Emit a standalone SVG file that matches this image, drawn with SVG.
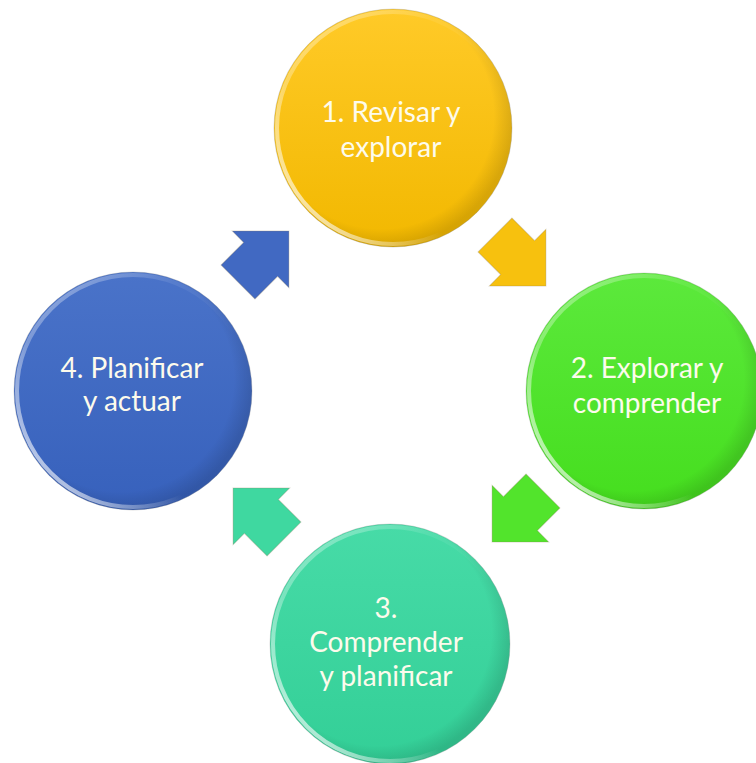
<svg xmlns="http://www.w3.org/2000/svg" width="756" height="763" viewBox="0 0 756 763">
<defs>
<linearGradient id="gY" x1="0" y1="0" x2="0" y2="1"><stop offset="0" stop-color="#FFCA28"/><stop offset="1" stop-color="#F2B800"/></linearGradient>
<linearGradient id="gG" x1="0" y1="0" x2="0" y2="1"><stop offset="0" stop-color="#5CE93C"/><stop offset="1" stop-color="#45DE1E"/></linearGradient>
<linearGradient id="gT" x1="0" y1="0" x2="0" y2="1"><stop offset="0" stop-color="#47DBA7"/><stop offset="1" stop-color="#33CF97"/></linearGradient>
<linearGradient id="gB" x1="0" y1="0" x2="0" y2="1"><stop offset="0" stop-color="#4A73C9"/><stop offset="1" stop-color="#3761BC"/></linearGradient>
<linearGradient id="hl" x1="0" y1="0" x2="1" y2="1"><stop offset="0" stop-color="#fff" stop-opacity="0.5"/><stop offset="0.35" stop-color="#fff" stop-opacity="0.08"/><stop offset="0.6" stop-color="#fff" stop-opacity="0"/><stop offset="1" stop-color="#fff" stop-opacity="0"/></linearGradient>
<linearGradient id="hl2" x1="1" y1="0" x2="0" y2="1"><stop offset="0" stop-color="#fff" stop-opacity="0"/><stop offset="0.62" stop-color="#fff" stop-opacity="0"/><stop offset="0.85" stop-color="#fff" stop-opacity="0.6"/><stop offset="1" stop-color="#fff" stop-opacity="0.15"/></linearGradient>
<radialGradient id="sh" cx="0.45" cy="0.45" r="0.55"><stop offset="0" stop-color="#000" stop-opacity="0"/><stop offset="0.86" stop-color="#000" stop-opacity="0"/><stop offset="1" stop-color="#000" stop-opacity="0.12"/></radialGradient>
<path id="arr" d="M0,-24 L32,-24 L32,-40 L72,0 L32,40 L32,24 L0,24 Z"/>
</defs>
<style>
.lbl{font-family:Lato,"Open Sans","Liberation Sans",sans-serif;font-size:28px;fill:#FDFBEC;text-anchor:middle}
.rim{fill:none;stroke-width:4}
.edge{fill:none;stroke:#8a8a8a;stroke-opacity:0.3;stroke-width:1}
.ar{stroke:#8a7a5a;stroke-opacity:0.3;stroke-width:1}
</style>
<g id="connectors">
<use href="#arr" transform="translate(495,235) rotate(45)" fill="#F7C10E" class="ar"/>
<use href="#arr" transform="translate(543,491) rotate(135)" fill="#52E42C" class="ar"/>
<use href="#arr" transform="translate(284,539) rotate(225)" fill="#3FD8A0" class="ar"/>
<use href="#arr" transform="translate(238,282) rotate(-45)" fill="#4169C2" class="ar"/>
</g>
<g id="n1">
<circle cx="393" cy="128" r="119" fill="url(#gY)"/>
<circle cx="393" cy="128" r="119" fill="url(#sh)"/>
<circle cx="393" cy="128" r="116" class="rim" stroke="url(#hl)"/>
<circle cx="393" cy="128" r="116" class="rim" stroke="url(#hl2)"/>
<circle cx="393" cy="128" r="119" class="edge"/>
<text class="lbl" x="391" y="122">1. Revisar y</text>
<text class="lbl" x="391" y="157">explorar</text>
</g>
<g id="n2">
<circle cx="644" cy="391" r="118" fill="url(#gG)"/>
<circle cx="644" cy="391" r="118" fill="url(#sh)"/>
<circle cx="644" cy="391" r="115" class="rim" stroke="url(#hl)"/>
<circle cx="644" cy="391" r="115" class="rim" stroke="url(#hl2)"/>
<circle cx="644" cy="391" r="118" class="edge"/>
<text class="lbl" x="647" y="378">2. Explorar y</text>
<text class="lbl" x="647" y="413">comprender</text>
</g>
<g id="n3">
<circle cx="390" cy="644" r="120" fill="url(#gT)"/>
<circle cx="390" cy="644" r="120" fill="url(#sh)"/>
<circle cx="390" cy="644" r="117" class="rim" stroke="url(#hl)"/>
<circle cx="390" cy="644" r="117" class="rim" stroke="url(#hl2)"/>
<circle cx="390" cy="644" r="120" class="edge"/>
<text class="lbl" x="386" y="618">3.</text>
<text class="lbl" x="386" y="652">Comprender</text>
<text class="lbl" x="386" y="686">y planificar</text>
</g>
<g id="n4">
<circle cx="133" cy="391" r="119" fill="url(#gB)"/>
<circle cx="133" cy="391" r="119" fill="url(#sh)"/>
<circle cx="133" cy="391" r="116" class="rim" stroke="url(#hl)"/>
<circle cx="133" cy="391" r="116" class="rim" stroke="url(#hl2)"/>
<circle cx="133" cy="391" r="119" class="edge"/>
<text class="lbl" x="132" y="378">4. Planificar</text>
<text class="lbl" x="132" y="411">y actuar</text>
</g>
</svg>
